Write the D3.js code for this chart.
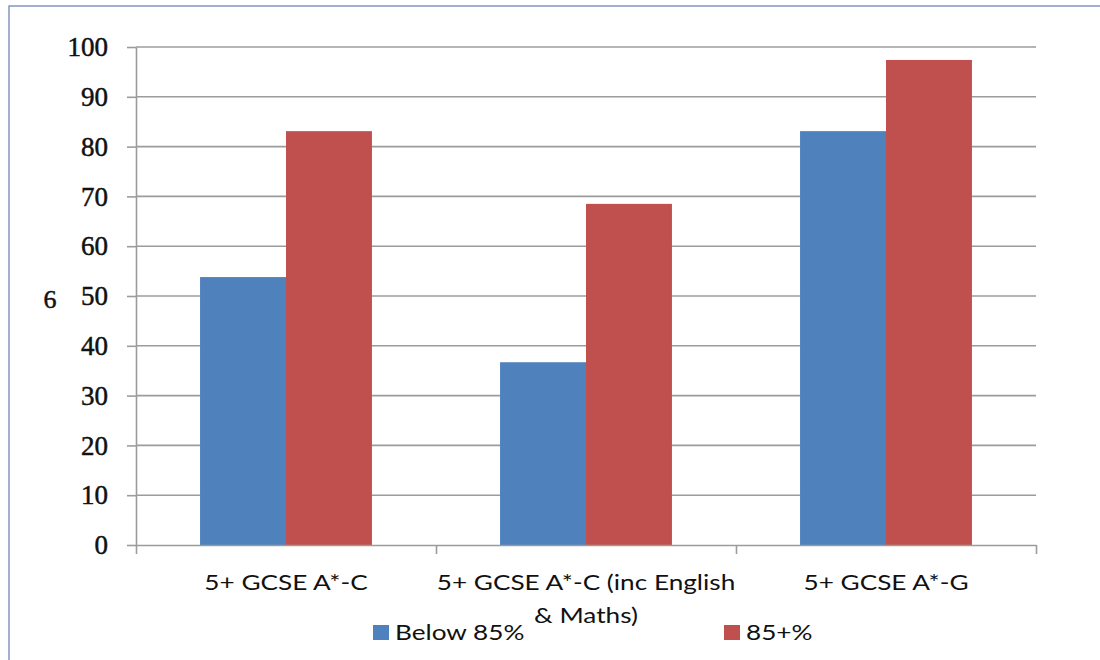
<!DOCTYPE html>
<html>
<head>
<meta charset="utf-8">
<script src="https://cdn.jsdelivr.net/npm/d3@7"></script>
<style>
  html, body { margin: 0; padding: 0; background: #fff; }
  svg { display: block; }
</style>
</head>
<body>
<svg id="chart" width="1100" height="660"></svg>
<script>
// GCSE attainment by attendance band (%)
const categories = ["5+ GCSE A*-C", "5+ GCSE A*-C (inc English & Maths)", "5+ GCSE A*-G"];
const categoryLines = [["5+ GCSE A*-C"], ["5+ GCSE A*-C (inc English", "& Maths)"], ["5+ GCSE A*-G"]];
const seriesNames = ["Below 85%", "85+%"];
const below85 = [53.8, 36.7, 83.1];
const above85 = [83.1, 68.5, 97.4];
const yTicks = [0, 10, 20, 30, 40, 50, 60, 70, 80, 90, 100];
const colors = ["#4f81bd", "#c0504d"];

const svg = d3.select("#chart");
const plotLeft = 136, plotRight = 1036, plotTop = 47, plotBottom = 545;
const sansFont = "Lato, 'Open Sans', sans-serif";
const serifFont = "'Liberation Serif', 'DejaVu Serif', serif";
const stretch = 1.19;

// frame
svg.append("rect").attr("x", 9).attr("y", 6).attr("width", 1100).attr("height", 670)
  .attr("fill", "none").attr("stroke", "#8597bd").attr("stroke-width", 1.5);

const y = d3.scaleLinear().domain([0, 100]).range([plotBottom, plotTop]);
const x = d3.scaleBand().domain(categories).range([plotLeft, plotRight]);
const groupW = x.bandwidth() * 0.573;
const xs = d3.scaleBand().domain(seriesNames)
  .range([(x.bandwidth() - groupW) / 2, (x.bandwidth() + groupW) / 2]);

// gridlines
svg.append("g").selectAll("line").data(yTicks.filter(d => d > 0)).join("line")
  .attr("x1", plotLeft).attr("x2", plotRight)
  .attr("y1", d => y(d)).attr("y2", d => y(d))
  .attr("stroke", "#9c9c9c").attr("stroke-width", 1.6);

// bars
const rows = categories.map((c, i) => ({ c, vals: [below85[i], above85[i]] }));
svg.append("g").selectAll("g").data(rows).join("g")
  .attr("transform", d => `translate(${x(d.c)},0)`)
  .selectAll("rect").data(d => d.vals.map((v, j) => ({ v, s: seriesNames[j], j })))
  .join("rect")
  .attr("x", d => xs(d.s)).attr("width", xs.bandwidth())
  .attr("y", d => y(d.v)).attr("height", d => y(0) - y(d.v))
  .attr("fill", d => colors[d.j]);

// y axis
const yAxis = svg.append("g").attr("transform", `translate(${plotLeft},0)`)
  .call(d3.axisLeft(y).tickValues(yTicks).tickSizeInner(9).tickSizeOuter(0).tickPadding(19));
yAxis.select(".domain").attr("stroke", "#9c9c9c").attr("stroke-width", 1.6);
yAxis.selectAll(".tick line").attr("stroke", "#9c9c9c").attr("stroke-width", 1.6);
yAxis.selectAll(".tick text").attr("font-family", serifFont).attr("font-size", 27)
  .attr("fill", "#111").attr("stroke", "#111").attr("stroke-width", 0.5);

// x axis with ticks on category boundaries
const xb = d3.scaleLinear().domain([0, categories.length]).range([plotLeft, plotRight]);
const xAxis = svg.append("g").attr("transform", `translate(0,${plotBottom})`)
  .call(d3.axisBottom(xb).tickValues(d3.range(categories.length + 1)).tickFormat("")
    .tickSizeInner(9).tickSizeOuter(0));
xAxis.select(".domain").attr("stroke", "#9c9c9c").attr("stroke-width", 1.6);
xAxis.selectAll(".tick line").attr("stroke", "#9c9c9c").attr("stroke-width", 1.6);

// category labels
categories.forEach((c, i) => {
  const cx = x(c) + x.bandwidth() / 2;
  categoryLines[i].forEach((line, k) => {
    svg.append("text")
      .attr("transform", `translate(${cx},${590 + k * 33}) scale(${stretch},1)`)
      .attr("text-anchor", "middle").attr("font-family", sansFont)
      .attr("font-size", 22).attr("fill", "#111").text(line);
  });
});

// axis title
svg.append("text").attr("x", 50).attr("y", 308).attr("text-anchor", "middle")
  .attr("font-family", serifFont).attr("font-size", 26)
  .attr("fill", "#111").attr("stroke", "#111").attr("stroke-width", 0.5).text("6");

// legend
const legendX = [373, 724];
seriesNames.forEach((s, j) => {
  svg.append("rect").attr("x", legendX[j]).attr("y", 625).attr("width", 16).attr("height", 15)
    .attr("fill", colors[j]);
  svg.append("text")
    .attr("transform", `translate(${legendX[j] + 22},640) scale(${stretch},1)`)
    .attr("font-family", sansFont).attr("font-size", 22).attr("fill", "#111").text(s);
});
</script>
</body>
</html>
